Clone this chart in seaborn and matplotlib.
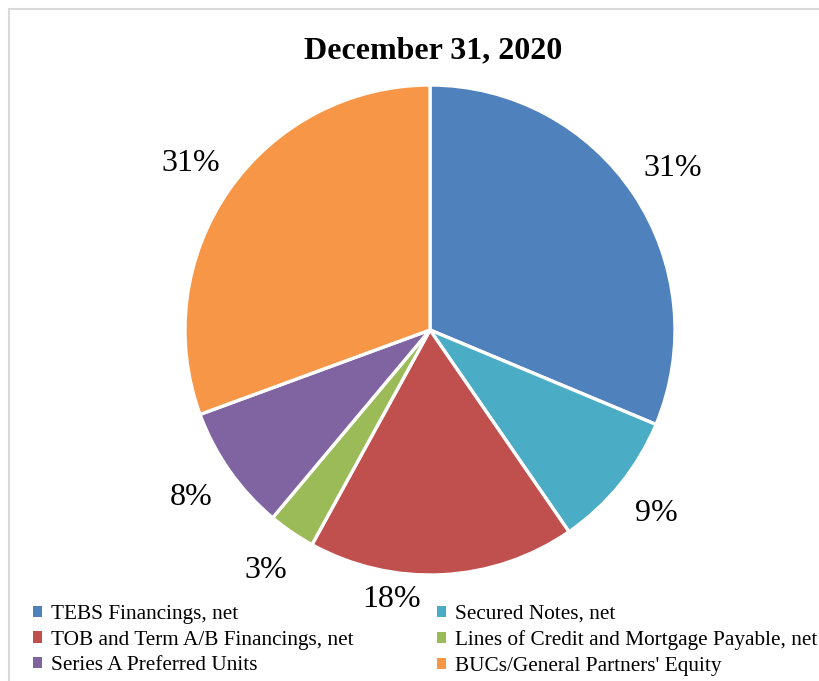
import matplotlib
matplotlib.use("Agg")
import matplotlib.pyplot as plt
import seaborn as sns
import numpy as np
from matplotlib.patches import Patch, Rectangle

sns.set_theme(style="white")
plt.rcParams['font.family'] = ['Liberation Serif', 'DejaVu Serif']
plt.rcParams['text.color'] = 'black'

categories = ["TEBS Financings, net", "Secured Notes, net",
              "TOB and Term A/B Financings, net",
              "Lines of Credit and Mortgage Payable, net",
              "Series A Preferred Units", "BUCs/General Partners' Equity"]
values = [31.3, 9.1, 17.6, 3.1, 8.3, 30.6]
colors = ["#4F81BD", "#4BACC6", "#C0504D", "#9BBB59", "#8064A2", "#F79646"]
title = "December 31, 2020"

W, H = 820, 681
fig = plt.figure(figsize=(W / 100, H / 100), dpi=100)
fig.patch.set_facecolor("white")

# light frame
fig.add_artist(Rectangle((9.5 / W, -0.1), 1.2, 1 - 8.5 / H + 0.1,
                         transform=fig.transFigure, fill=False,
                         edgecolor="#D9D9D9", linewidth=1.5))

cx, cy, r = 430, H - 330, 245
ax = fig.add_axes([(cx - r) / W, (cy - r) / H, 2 * r / W, 2 * r / H])
wedges, texts, autotexts = ax.pie(
    values, colors=colors, startangle=90, counterclock=False,
    autopct="%.0f%%", pctdistance=1.19, radius=1,
    wedgeprops=dict(edgecolor="white", linewidth=2.4),
    textprops=dict(fontsize=23, color="black"))
# the 18% label is nudged closer and a bit to the left (avoids legend)
x, y = autotexts[2].get_position()
ang = np.arctan2(y, x) - np.radians(11)
autotexts[2].set_position((1.11 * np.cos(ang), 1.11 * np.sin(ang)))
ax.set_xlim(-1, 1)
ax.set_ylim(-1, 1)
ax.set_aspect("equal")
ax.axis("off")

fig.text(0.5 * (307 + 560) / W, 1 - 51 / H, title, ha="center", va="center",
         fontsize=23, fontweight="bold", color="black")

def make_legend(idx, x0):
    handles = [Patch(facecolor=colors[i], edgecolor="none") for i in idx]
    labels = [categories[i] for i in idx]
    leg = fig.legend(handles, labels, loc="upper left",
                     bbox_to_anchor=(x0 / W, 1 - 605 / H),
                     frameon=False, fontsize=15.3, handlelength=0.42,
                     handleheight=0.42, handletextpad=0.45, labelspacing=0.31,
                     borderpad=0, borderaxespad=0, labelcolor="black")
    return leg

make_legend([0, 2, 4], 33)
make_legend([1, 3, 5], 437)

fig.savefig("out.png", dpi=100, facecolor="white")
